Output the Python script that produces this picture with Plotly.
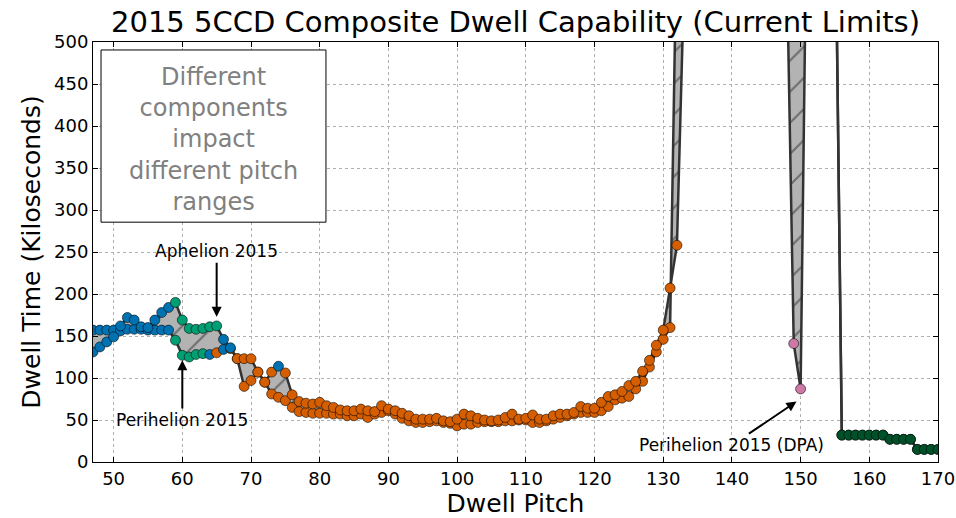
import plotly.graph_objects as go

# ---------------- data ----------------
pitch = list(range(47, 171))

# upper (aphelion-side) envelope, ks ; values far above the plot are off-scale
upper = [131, 137, 143, 149, 162, 172, 169, 161, 160, 169, 178, 184,
         190, 169, 159, 158, 159, 161, 162, 146, 136, 123, 123, 123,
         107, 95, 107, 114, 106, 80, 72, 70, 69, 71, 67, 65,
         62, 61, 61, 63, 61, 60, 67, 63, 61, 58, 55, 51,
         51, 51, 52, 49, 48, 51, 57, 55, 52, 50, 49, 50,
         53, 57, 51, 52, 56, 51, 51, 55, 57, 57, 59, 66,
         64, 64, 71, 78, 80, 84, 91, 96, 108, 121, 139, 157,
         207, 258, 560,
         1000, 1000, 1000, 1000, 1000, 1000, 1000, 1000, 1000, 1000, 1000,
         1000, 1000, 1000, 1000, 1000, 1000, 1000, 1000, 1000, 1000,
         700,
         32, 32, 32, 32, 32, 32, 32, 27, 27, 27, 27, 15, 15, 15, 15]

# lower (perihelion-side) envelope, ks
lower = [157, 157, 157, 157, 156, 158, 158, 158, 157, 157, 157, 157,
         145, 127, 125, 128, 129, 128, 130, 134, 135, 123, 90, 97,
         107, 95, 81, 77, 73, 65, 60, 59, 58, 58, 58, 57,
         57, 55, 55, 57, 53, 57, 59, 61, 57, 52, 49, 47,
         47, 48, 49, 47, 46, 43, 45, 45, 47, 48, 48, 48,
         49, 49, 50, 50, 47, 47, 49, 51, 53, 55, 57, 59,
         59, 59, 61, 66, 74, 76, 78, 87, 96, 113, 131, 146,
         160, 646,
         1000, 1000, 1000, 1000, 1000, 1000, 1000, 1000, 1000, 1000,
         1000, 1000, 1000, 1000, 1000,
         590, 141, 87, 742,
         1000, 1000, 1000,
         700,
         32, 32, 32, 32, 32, 32, 32, 27, 27, 27, 27, 15, 15, 15, 15]

# limiting component of each point (one letter per pitch)
upper_comp = ("BBBBBBBBBBBB" + "GGGGGGG" + "BB" + "OOOOOO" + "B"
              + "OOOOOOOOOOOOOOOOOOOOOOOOOOOOOOOOOOOOOOOO"
              + "OOOOOOOOOOOOOOOOOOOOOOOOOOOOOOOOOOOOOOOO"
              + "K" + "KKKKKKKKKKKKKKK")
lower_comp = ("BBBBBBBBBBBB" + "GGGGG" + "B" + "O" + "B"
              + "OOOOOOOOOOOOOOOOOOOOOOOOOOOOOOOOOOOOOOOOOOOOOOOOOOOOOOOOOOOOOOOOOOOOOOOOOOOOOOOOOO"
              + "PP" + "OOOO" + "KKKKKKKKKKKKKKKK")

xticks = list(range(50, 171, 10))
yticks = list(range(0, 501, 50))

COLORS = {'B': '#0072B2', 'G': '#009E73', 'O': '#D55E00',
          'P': '#CC79A7', 'K': '#00512A'}

# ---------------- figure ----------------
fig = go.Figure()
fig.add_trace(go.Scatter(x=pitch, y=lower, mode='lines', line=dict(width=0, color='rgba(0,0,0,0)'),
                         hoverinfo='skip', showlegend=False))
fig.add_trace(go.Scatter(x=pitch, y=upper, mode='lines', line=dict(width=0, color='rgba(0,0,0,0)'),
                         fill='tonexty', fillcolor='#b3b3b3',
                         fillpattern=dict(shape='/', bgcolor='#b3b3b3', fgcolor='#2a2a2a',
                                          size=22, solidity=0.1),
                         hoverinfo='skip', showlegend=False))
for series in (lower, upper):
    fig.add_trace(go.Scatter(x=pitch, y=series, mode='lines',
                             line=dict(color='#333333', width=2.5), showlegend=False))
for series, comp in ((lower, lower_comp), (upper, upper_comp)):
    fig.add_trace(go.Scatter(x=pitch, y=series, mode='markers', showlegend=False,
                             marker=dict(size=10, color=[COLORS[c] for c in comp],
                                         line=dict(color='rgba(0,0,0,0.55)', width=1))))

axis_common = dict(ticks='inside', ticklen=5, tickcolor='black', mirror='allticks',
                   showline=True, linecolor='black', linewidth=1, automargin=False,
                   showgrid=True, gridcolor='#b0b0b0', griddash='dot', gridwidth=1,
                   zeroline=False, tickfont=dict(size=18, color='black'))

fig.update_layout(
    width=956, height=518,
    margin=dict(l=93, r=18, t=42, b=56),
    paper_bgcolor='white', plot_bgcolor='white',
    font=dict(family='DejaVu Sans', color='black'),
    showlegend=False,
    title=dict(text='2015 5CCD Composite Dwell Capability (Current Limits)',
               x=0.5, xref='paper', xanchor='center',
               y=1 - 22 / 518, yref='container', yanchor='middle',
               font=dict(size=29, color='black')),
    xaxis=dict(range=[47, 170], tickvals=xticks,
               title=dict(text='Dwell Pitch', font=dict(size=25), standoff=4), **axis_common),
    yaxis=dict(range=[0, 500], tickvals=yticks,
               title=dict(text='Dwell Time (Kiloseconds)', font=dict(size=25), standoff=6), **axis_common),
)

fig.add_shape(type='rect', xref='paper', yref='paper', x0=0.0095, x1=0.2757, y0=0.571, y1=0.981,
              line=dict(color='black', width=1), fillcolor='white', layer='above')
fig.add_annotation(xref='paper', yref='paper', x=0.1426, y=0.767, xanchor='center', yanchor='middle',
                   showarrow=False,
                   text='Different<br>components<br>impact<br>different pitch<br>ranges',
                   font=dict(size=24, color='#808080'), align='center')

arrow_kw = dict(showarrow=True, arrowhead=2, arrowsize=1, arrowwidth=2, arrowcolor='black',
                axref='x', ayref='y', font=dict(size=17, color='black'))
fig.add_annotation(x=65, y=173, ax=65, ay=251, text='Aphelion 2015', **arrow_kw)
fig.add_annotation(x=60, y=121, ax=60, ay=50, text='Perihelion 2015', **arrow_kw)
fig.add_annotation(x=149.4, y=72, ax=140, ay=20, text='Perihelion 2015 (DPA)', **arrow_kw)

fig.write_html('out.html')
